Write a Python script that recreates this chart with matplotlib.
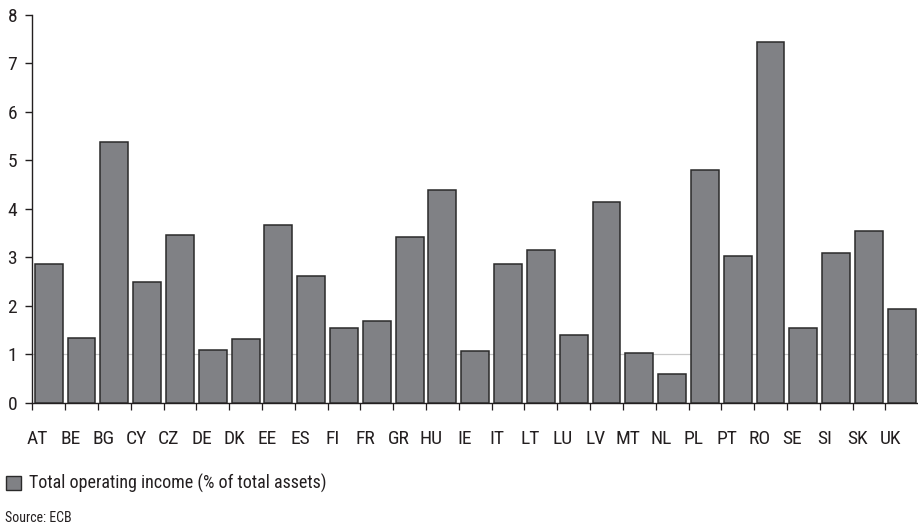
import matplotlib.pyplot as plt
import matplotlib.transforms as mtransforms
from matplotlib.patches import Patch
from matplotlib import font_manager

countries = ['AT', 'BE', 'BG', 'CY', 'CZ', 'DE', 'DK', 'EE', 'ES', 'FI', 'FR', 'GR', 'HU', 'IE',
             'IT', 'LT', 'LU', 'LV', 'MT', 'NL', 'PL', 'PT', 'RO', 'SE', 'SI', 'SK', 'UK']
income = [2.86, 1.34, 5.38, 2.49, 3.46, 1.09, 1.31, 3.66, 2.61, 1.53, 1.68, 3.42, 4.39, 1.06,
          2.86, 3.15, 1.40, 4.14, 1.03, 0.60, 4.79, 3.02, 7.44, 1.53, 3.08, 3.55, 1.93]
legend_label = 'Total operating income (% of total assets)'
source = 'Source: ECB'

# pick a narrow face if one is around
names = {f.name for f in font_manager.fontManager.ttflist}
fam = 'DejaVu Sans'
for cand in ['Roboto Condensed', 'Archivo Narrow', 'PT Sans Narrow', 'Liberation Sans Narrow',
             'IBM Plex Sans Condensed', 'Open Sans Condensed']:
    if cand in names:
        fam = cand
        break
plt.rcParams['font.family'] = [fam, 'DejaVu Sans']

txt = '#231f20'
bar_fc = '#808185'
bar_ec = '#2a2a2a'

fig = plt.figure(figsize=(9.18, 5.27), dpi=100)
ax = fig.add_axes([0.0352, 0.236, 0.965, 0.736])

x = range(len(countries))
ax.bar(x, income, width=0.85, color=bar_fc, edgecolor=bar_ec, linewidth=1.1, zorder=3)
ax.axhline(1, color='#c8c8c8', linewidth=0.9, zorder=1)

ax.set_xlim(-0.5, len(countries) - 0.5)
ax.set_ylim(0, 8)
ax.set_yticks(range(0, 9))
ax.set_xticks([i - 0.5 for i in range(len(countries))])
ax.set_xticklabels([])
ax.set_xticks(list(x), minor=True)
ax.set_xticklabels(countries, minor=True)

for s in ['top', 'right']:
    ax.spines[s].set_visible(False)
for s in ['left', 'bottom']:
    ax.spines[s].set_color(txt)
    ax.spines[s].set_linewidth(1.0)

ax.tick_params(axis='y', direction='out', length=5, width=1, color=txt,
               labelsize=14, labelcolor=txt, pad=6)
ax.tick_params(axis='x', which='major', direction='out', length=5, width=0.9, color=txt)
ax.tick_params(axis='x', which='minor', length=0, labelsize=14, labelcolor=txt, pad=20)

# country labels sit a little left of the bar centres in the original
shift = mtransforms.ScaledTranslation(-11 / 100, 0, fig.dpi_scale_trans)
for lab in ax.get_xticklabels(minor=True):
    lab.set_transform(lab.get_transform() + shift)

handle = Patch(facecolor=bar_fc, edgecolor=bar_ec, linewidth=1.0)
fig.legend([handle], [legend_label], loc='center left', bbox_to_anchor=(-0.011, 0.082),
           frameon=False, fontsize=13, handlelength=0.8, handleheight=0.8,
           handletextpad=0.45, labelcolor=txt)

fig.text(0.005, 0.018, source, fontsize=10, color=txt, va='center', ha='left')

fig.savefig('out.png', dpi=100)
